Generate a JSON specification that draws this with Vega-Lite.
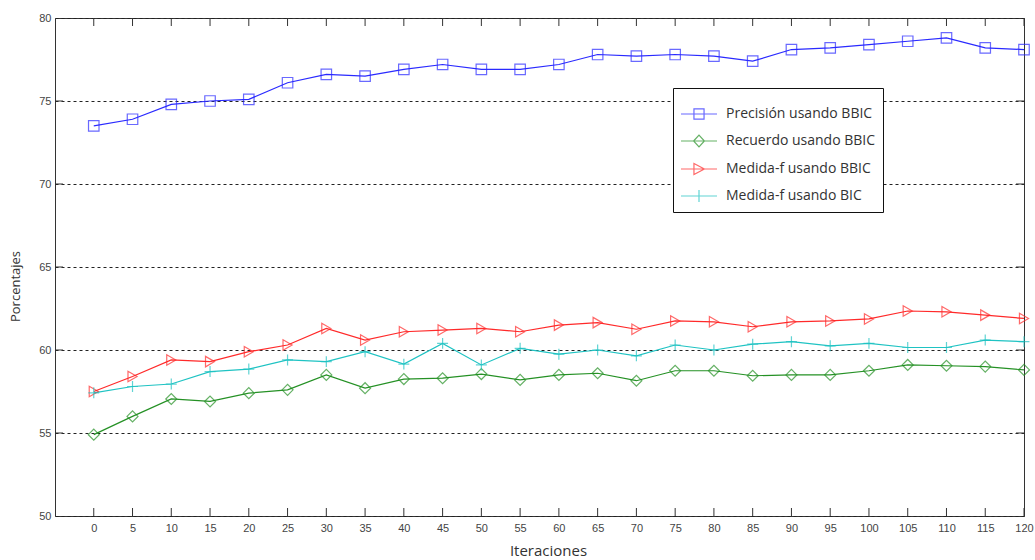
{
  "$schema": "https://vega.github.io/schema/vega-lite/v6.json",
  "width": 969,
  "height": 498,
  "autosize": {"type": "none"},
  "padding": {"left": 55, "top": 18, "right": 11, "bottom": 44},
  "background": "white",
  "config": {
    "view": {"stroke": "#333", "strokeWidth": 1},
    "axis": {
      "labelFont": "Liberation Sans",
      "labelFontSize": 11,
      "labelColor": "#444",
      "domain": false,
      "ticks": false,
      "titleFont": "Open Sans",
      "titleColor": "#333",
      "titleFontWeight": "normal"
    },
    "legend": {
      "labelFont": "Open Sans",
      "labelFontSize": 14,
      "labelColor": "#333"
    }
  },
  "data": {
    "values": [
      {"it": 0, "serie": "Precisión usando BBIC", "v": 73.5},
      {"it": 5, "serie": "Precisión usando BBIC", "v": 73.9},
      {"it": 10, "serie": "Precisión usando BBIC", "v": 74.8},
      {"it": 15, "serie": "Precisión usando BBIC", "v": 75.0},
      {"it": 20, "serie": "Precisión usando BBIC", "v": 75.1},
      {"it": 25, "serie": "Precisión usando BBIC", "v": 76.1},
      {"it": 30, "serie": "Precisión usando BBIC", "v": 76.6},
      {"it": 35, "serie": "Precisión usando BBIC", "v": 76.5},
      {"it": 40, "serie": "Precisión usando BBIC", "v": 76.9},
      {"it": 45, "serie": "Precisión usando BBIC", "v": 77.2},
      {"it": 50, "serie": "Precisión usando BBIC", "v": 76.9},
      {"it": 55, "serie": "Precisión usando BBIC", "v": 76.9},
      {"it": 60, "serie": "Precisión usando BBIC", "v": 77.2},
      {"it": 65, "serie": "Precisión usando BBIC", "v": 77.8},
      {"it": 70, "serie": "Precisión usando BBIC", "v": 77.7},
      {"it": 75, "serie": "Precisión usando BBIC", "v": 77.8},
      {"it": 80, "serie": "Precisión usando BBIC", "v": 77.7},
      {"it": 85, "serie": "Precisión usando BBIC", "v": 77.4},
      {"it": 90, "serie": "Precisión usando BBIC", "v": 78.1},
      {"it": 95, "serie": "Precisión usando BBIC", "v": 78.2},
      {"it": 100, "serie": "Precisión usando BBIC", "v": 78.4},
      {"it": 105, "serie": "Precisión usando BBIC", "v": 78.6},
      {"it": 110, "serie": "Precisión usando BBIC", "v": 78.8},
      {"it": 115, "serie": "Precisión usando BBIC", "v": 78.2},
      {"it": 120, "serie": "Precisión usando BBIC", "v": 78.1},
      {"it": 0, "serie": "Recuerdo usando BBIC", "v": 54.9},
      {"it": 5, "serie": "Recuerdo usando BBIC", "v": 56.0},
      {"it": 10, "serie": "Recuerdo usando BBIC", "v": 57.05},
      {"it": 15, "serie": "Recuerdo usando BBIC", "v": 56.9},
      {"it": 20, "serie": "Recuerdo usando BBIC", "v": 57.4},
      {"it": 25, "serie": "Recuerdo usando BBIC", "v": 57.6},
      {"it": 30, "serie": "Recuerdo usando BBIC", "v": 58.5},
      {"it": 35, "serie": "Recuerdo usando BBIC", "v": 57.7},
      {"it": 40, "serie": "Recuerdo usando BBIC", "v": 58.25},
      {"it": 45, "serie": "Recuerdo usando BBIC", "v": 58.3},
      {"it": 50, "serie": "Recuerdo usando BBIC", "v": 58.55},
      {"it": 55, "serie": "Recuerdo usando BBIC", "v": 58.2},
      {"it": 60, "serie": "Recuerdo usando BBIC", "v": 58.5},
      {"it": 65, "serie": "Recuerdo usando BBIC", "v": 58.6},
      {"it": 70, "serie": "Recuerdo usando BBIC", "v": 58.15},
      {"it": 75, "serie": "Recuerdo usando BBIC", "v": 58.75},
      {"it": 80, "serie": "Recuerdo usando BBIC", "v": 58.75},
      {"it": 85, "serie": "Recuerdo usando BBIC", "v": 58.45},
      {"it": 90, "serie": "Recuerdo usando BBIC", "v": 58.5},
      {"it": 95, "serie": "Recuerdo usando BBIC", "v": 58.5},
      {"it": 100, "serie": "Recuerdo usando BBIC", "v": 58.75},
      {"it": 105, "serie": "Recuerdo usando BBIC", "v": 59.1},
      {"it": 110, "serie": "Recuerdo usando BBIC", "v": 59.05},
      {"it": 115, "serie": "Recuerdo usando BBIC", "v": 59.0},
      {"it": 120, "serie": "Recuerdo usando BBIC", "v": 58.8},
      {"it": 0, "serie": "Medida-f usando BBIC", "v": 57.5},
      {"it": 5, "serie": "Medida-f usando BBIC", "v": 58.4},
      {"it": 10, "serie": "Medida-f usando BBIC", "v": 59.4},
      {"it": 15, "serie": "Medida-f usando BBIC", "v": 59.3},
      {"it": 20, "serie": "Medida-f usando BBIC", "v": 59.9},
      {"it": 25, "serie": "Medida-f usando BBIC", "v": 60.3},
      {"it": 30, "serie": "Medida-f usando BBIC", "v": 61.3},
      {"it": 35, "serie": "Medida-f usando BBIC", "v": 60.6},
      {"it": 40, "serie": "Medida-f usando BBIC", "v": 61.1},
      {"it": 45, "serie": "Medida-f usando BBIC", "v": 61.2},
      {"it": 50, "serie": "Medida-f usando BBIC", "v": 61.3},
      {"it": 55, "serie": "Medida-f usando BBIC", "v": 61.1},
      {"it": 60, "serie": "Medida-f usando BBIC", "v": 61.5},
      {"it": 65, "serie": "Medida-f usando BBIC", "v": 61.65},
      {"it": 70, "serie": "Medida-f usando BBIC", "v": 61.25},
      {"it": 75, "serie": "Medida-f usando BBIC", "v": 61.75},
      {"it": 80, "serie": "Medida-f usando BBIC", "v": 61.7},
      {"it": 85, "serie": "Medida-f usando BBIC", "v": 61.4},
      {"it": 90, "serie": "Medida-f usando BBIC", "v": 61.7},
      {"it": 95, "serie": "Medida-f usando BBIC", "v": 61.75},
      {"it": 100, "serie": "Medida-f usando BBIC", "v": 61.87},
      {"it": 105, "serie": "Medida-f usando BBIC", "v": 62.35},
      {"it": 110, "serie": "Medida-f usando BBIC", "v": 62.3},
      {"it": 115, "serie": "Medida-f usando BBIC", "v": 62.1},
      {"it": 120, "serie": "Medida-f usando BBIC", "v": 61.9},
      {"it": 0, "serie": "Medida-f usando BIC", "v": 57.42},
      {"it": 5, "serie": "Medida-f usando BIC", "v": 57.8},
      {"it": 10, "serie": "Medida-f usando BIC", "v": 57.95},
      {"it": 15, "serie": "Medida-f usando BIC", "v": 58.7},
      {"it": 20, "serie": "Medida-f usando BIC", "v": 58.85},
      {"it": 25, "serie": "Medida-f usando BIC", "v": 59.4},
      {"it": 30, "serie": "Medida-f usando BIC", "v": 59.3},
      {"it": 35, "serie": "Medida-f usando BIC", "v": 59.9},
      {"it": 40, "serie": "Medida-f usando BIC", "v": 59.15},
      {"it": 45, "serie": "Medida-f usando BIC", "v": 60.4},
      {"it": 50, "serie": "Medida-f usando BIC", "v": 59.1},
      {"it": 55, "serie": "Medida-f usando BIC", "v": 60.1},
      {"it": 60, "serie": "Medida-f usando BIC", "v": 59.75},
      {"it": 65, "serie": "Medida-f usando BIC", "v": 60.0},
      {"it": 70, "serie": "Medida-f usando BIC", "v": 59.65},
      {"it": 75, "serie": "Medida-f usando BIC", "v": 60.3},
      {"it": 80, "serie": "Medida-f usando BIC", "v": 60.0},
      {"it": 85, "serie": "Medida-f usando BIC", "v": 60.35},
      {"it": 90, "serie": "Medida-f usando BIC", "v": 60.5},
      {"it": 95, "serie": "Medida-f usando BIC", "v": 60.25},
      {"it": 100, "serie": "Medida-f usando BIC", "v": 60.4},
      {"it": 105, "serie": "Medida-f usando BIC", "v": 60.15},
      {"it": 110, "serie": "Medida-f usando BIC", "v": 60.15},
      {"it": 115, "serie": "Medida-f usando BIC", "v": 60.6},
      {"it": 120, "serie": "Medida-f usando BIC", "v": 60.5}
    ]
  },
  "layer": [
    {
      "mark": {"type": "line", "strokeWidth": 1.2},
      "encoding": {
        "x": {
          "field": "it", "type": "quantitative",
          "scale": {"domain": [-5, 120], "nice": false, "zero": false},
          "axis": {
            "orient": "bottom",
            "title": "Iteraciones",
            "titleFontSize": 15,
            "titlePadding": 10,
            "titleX": 493,
            "values": [0,5,10,15,20,25,30,35,40,45,50,55,60,65,70,75,80,85,90,95,100,105,110,115,120],
            "grid": false,
            "labelPadding": 6,
            "labelFlush": false
          }
        },
        "y": {
          "field": "v", "type": "quantitative",
          "scale": {"domain": [50, 80], "nice": false, "zero": false},
          "axis": {
            "orient": "left",
            "title": "Porcentajes",
            "titleFontSize": 13,
            "titlePadding": 16,
            "titleY": 268,
            "values": [50, 55, 60, 65, 70, 75, 80],
            "grid": true,
            "gridDash": [3, 3],
            "gridColor": "#222",
            "gridWidth": 1,
            "labelPadding": 4
          }
        },
        "color": {
          "field": "serie", "type": "nominal",
          "scale": {
            "domain": ["Precisión usando BBIC", "Recuerdo usando BBIC", "Medida-f usando BBIC", "Medida-f usando BIC"],
            "range": ["#2a2aff", "#259125", "#ff2a2a", "#1fc3c3"]
          }
        }
      }
    },
    {
      "data": {"values": [{"t": 0}, {"t": 5}, {"t": 10}, {"t": 15}, {"t": 20}, {"t": 25}, {"t": 30}, {"t": 35}, {"t": 40}, {"t": 45}, {"t": 50}, {"t": 55}, {"t": 60}, {"t": 65}, {"t": 70}, {"t": 75}, {"t": 80}, {"t": 85}, {"t": 90}, {"t": 95}, {"t": 100}, {"t": 105}, {"t": 110}, {"t": 115}, {"t": 120}]},
      "mark": {"type": "point", "filled": false, "shape": "M0,0L0,-1", "size": 256, "stroke": "#333", "strokeWidth": 1, "opacity": 1},
      "encoding": {
        "x": {"field": "t", "type": "quantitative"},
        "y": {"datum": 50, "type": "quantitative"}
      }
    },
    {
      "data": {"values": [{"t": 0}, {"t": 5}, {"t": 10}, {"t": 15}, {"t": 20}, {"t": 25}, {"t": 30}, {"t": 35}, {"t": 40}, {"t": 45}, {"t": 50}, {"t": 55}, {"t": 60}, {"t": 65}, {"t": 70}, {"t": 75}, {"t": 80}, {"t": 85}, {"t": 90}, {"t": 95}, {"t": 100}, {"t": 105}, {"t": 110}, {"t": 115}, {"t": 120}]},
      "mark": {"type": "point", "filled": false, "shape": "M0,0L0,1", "size": 256, "stroke": "#333", "strokeWidth": 1, "opacity": 1},
      "encoding": {
        "x": {"field": "t", "type": "quantitative"},
        "y": {"datum": 80, "type": "quantitative"}
      }
    },
    {
      "data": {"values": [{"t": 55}, {"t": 60}, {"t": 65}, {"t": 70}, {"t": 75}]},
      "mark": {"type": "point", "filled": false, "shape": "M0,0L1,0", "size": 256, "stroke": "#333", "strokeWidth": 1, "opacity": 1},
      "encoding": {
        "y": {"field": "t", "type": "quantitative"},
        "x": {"datum": -5, "type": "quantitative"}
      }
    },
    {
      "data": {"values": [{"t": 55}, {"t": 60}, {"t": 65}, {"t": 70}, {"t": 75}]},
      "mark": {"type": "point", "filled": false, "shape": "M0,0L-1,0", "size": 256, "stroke": "#333", "strokeWidth": 1, "opacity": 1},
      "encoding": {
        "y": {"field": "t", "type": "quantitative"},
        "x": {"datum": 120, "type": "quantitative"}
      }
    },
    {
      "transform": [{"filter": "datum.serie === 'Precisión usando BBIC'"}],
      "mark": {"type": "point", "filled": false, "size": 110, "strokeWidth": 1.2, "shape": "square"},
      "encoding": {
        "x": {"field": "it", "type": "quantitative"},
        "y": {"field": "v", "type": "quantitative"},
        "color": {"field": "serie", "type": "nominal"}
      }
    },
    {
      "transform": [{"filter": "datum.serie === 'Recuerdo usando BBIC'"}],
      "mark": {"type": "point", "filled": false, "size": 120, "strokeWidth": 1.2, "shape": "diamond"},
      "encoding": {
        "x": {"field": "it", "type": "quantitative"},
        "y": {"field": "v", "type": "quantitative"},
        "color": {"field": "serie", "type": "nominal"}
      }
    },
    {
      "transform": [{"filter": "datum.serie === 'Medida-f usando BBIC'"}],
      "mark": {"type": "point", "filled": false, "size": 110, "strokeWidth": 1.2, "shape": "triangle-right"},
      "encoding": {
        "x": {"field": "it", "type": "quantitative"},
        "y": {"field": "v", "type": "quantitative"},
        "color": {"field": "serie", "type": "nominal"}
      }
    },
    {
      "transform": [{"filter": "datum.serie === 'Medida-f usando BIC'"}],
      "mark": {"type": "point", "filled": false, "size": 120, "strokeWidth": 1.2, "shape": "M-1,0L1,0M0,-1L0,1"},
      "encoding": {
        "x": {"field": "it", "type": "quantitative"},
        "y": {"field": "v", "type": "quantitative"},
        "color": {"field": "serie", "type": "nominal"}
      }
    },
    {
      "transform": [{"filter": "datum.v > 1000"}],
      "mark": {"type": "point", "filled": false, "strokeWidth": 1.2},
      "encoding": {
        "x": {"field": "it", "type": "quantitative"},
        "y": {"field": "v", "type": "quantitative"},
        "color": {
          "field": "serie", "type": "nominal",
          "legend": {
            "title": null,
            "orient": "none",
            "legendX": 618,
            "legendY": 70,
            "fillColor": "white",
            "strokeColor": "#111",
            "padding": 7,
            "rowPadding": -4.5,
            "labelOffset": 8,
            "symbolStrokeWidth": 1.2,
            "symbolSize": 1300
          }
        },
        "shape": {
          "field": "serie", "type": "nominal",
          "scale": {
            "domain": ["Precisión usando BBIC", "Recuerdo usando BBIC", "Medida-f usando BBIC", "Medida-f usando BIC"],
            "range": [
              "M-1,0L1,0M-0.28,-0.28L0.28,-0.28L0.28,0.28L-0.28,0.28Z",
              "M-1,0L1,0M-0.3,0L0,-0.33L0.3,0L0,0.33Z",
              "M-1,0L1,0M-0.28,-0.3L0.3,0L-0.28,0.3Z",
              "M-1,0L1,0M0,-0.33L0,0.33"
            ]
          }
        }
      }
    }
  ]
}
